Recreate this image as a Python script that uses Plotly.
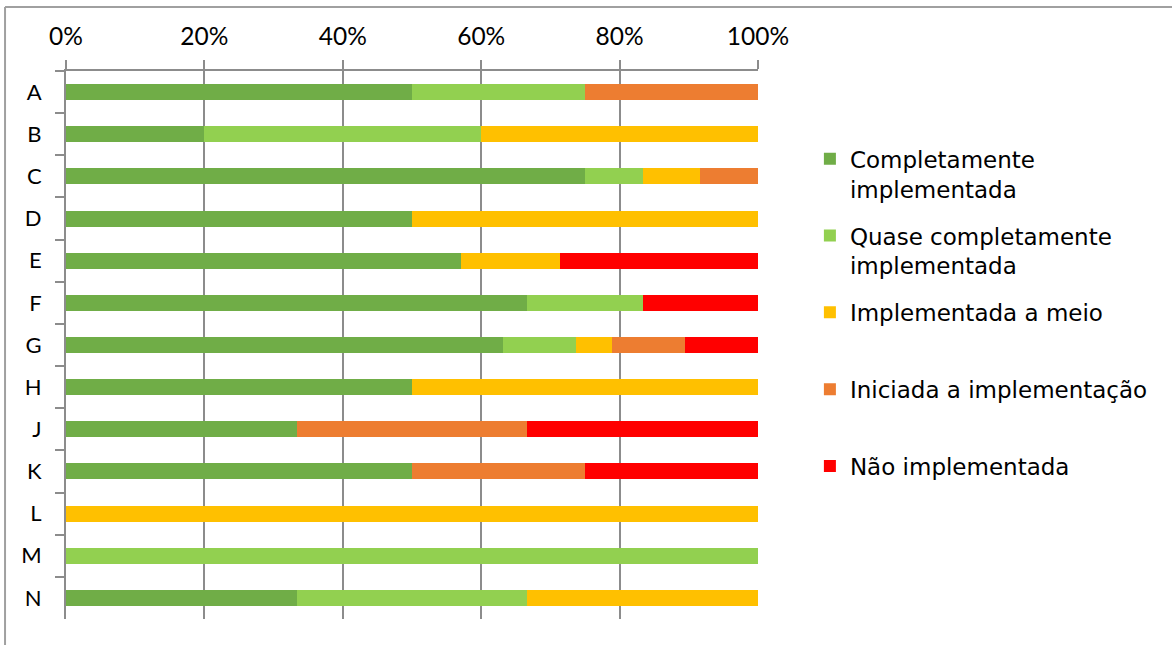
import plotly.graph_objects as go

# Categories (top to bottom) and the share of each implementation status (%)
categories = ["A", "B", "C", "D", "E", "F", "G", "H", "J", "K", "L", "M", "N"]

completamente = [50, 20, 75, 50, 57.14, 66.67, 63.16, 50, 33.33, 50, 0, 0, 33.33]
quase = [25, 40, 8.33, 0, 0, 16.67, 10.53, 0, 0, 0, 0, 100, 33.33]
meio = [0, 40, 8.33, 50, 14.29, 0, 5.26, 50, 0, 0, 100, 0, 33.34]
iniciada = [25, 0, 8.34, 0, 0, 0, 10.53, 0, 33.34, 25, 0, 0, 0]
nao = [0, 0, 0, 0, 28.57, 16.66, 10.52, 0, 33.33, 25, 0, 0, 0]

series_names = [
    "Completamente<br>implementada",
    "Quase completamente<br>implementada",
    "Implementada a meio<br> ",
    "Iniciada a implementação<br> ",
    "Não implementada<br> ",
]
series_values = [completamente, quase, meio, iniciada, nao]
series_colors = ["#70AD47", "#92D050", "#FFC000", "#ED7D31", "#FF0000"]

x_ticks = [0, 20, 40, 60, 80, 100]

fig = go.Figure()
for i, (name, vals, col) in enumerate(zip(series_names, series_values, series_colors)):
    fig.add_trace(go.Bar(
        y=categories,
        x=vals,
        name=name,
        orientation="h",
        marker=dict(color=col, line=dict(width=0)),
        legendgroup=f"g{i}",
    ))

axis_grey = "#8C8C8C"

fig.update_layout(
    width=1172,
    height=645,
    barmode="stack",
    bargap=0.62,
    plot_bgcolor="white",
    paper_bgcolor="white",
    margin=dict(l=66, r=414, t=71, b=26),
    font=dict(family="Lato", color="#000000"),
    showlegend=True,
    legend=dict(
        x=1.075,
        xanchor="left",
        y=0.879,
        yanchor="top",
        valign="top",
        traceorder="grouped",
        tracegroupgap=14,
        font=dict(family="DejaVu Sans", size=23, color="#000000"),
        bgcolor="rgba(0,0,0,0)",
        borderwidth=0,
    ),
    xaxis=dict(
        side="top",
        range=[0, 100],
        tickvals=x_ticks,
        ticktext=[f"{v}%" for v in x_ticks],
        showgrid=True,
        gridcolor=axis_grey,
        gridwidth=2,
        showline=True,
        linecolor=axis_grey,
        linewidth=2,
        ticks="outside",
        ticklen=9,
        tickwidth=2,
        tickcolor=axis_grey,
        tickfont=dict(family="Lato", size=24.5, color="#000000"),
        ticklabelstandoff=5,
        zeroline=False,
        fixedrange=True,
    ),
    yaxis=dict(
        autorange="reversed",
        categoryorder="array",
        categoryarray=categories,
        showgrid=False,
        showline=True,
        linecolor=axis_grey,
        linewidth=2,
        ticks="outside",
        tickson="boundaries",
        ticklen=9,
        tickwidth=2,
        tickcolor=axis_grey,
        tickfont=dict(family="Lato", size=22, color="#000000"),
        ticklabelstandoff=18,
        zeroline=False,
        fixedrange=True,
    ),
    shapes=[
        # chart frame: top and left edges
        dict(type="line", xref="paper", yref="paper",
             x0=-0.0881, x1=1.7, y0=1.1168, y1=1.1168,
             line=dict(color="#A0A0A0", width=2)),
        dict(type="line", xref="paper", yref="paper",
             x0=-0.0881, x1=-0.0881, y0=1.1168, y1=-0.1,
             line=dict(color="#A0A0A0", width=2)),
    ],
)

fig.write_html("out.html")
